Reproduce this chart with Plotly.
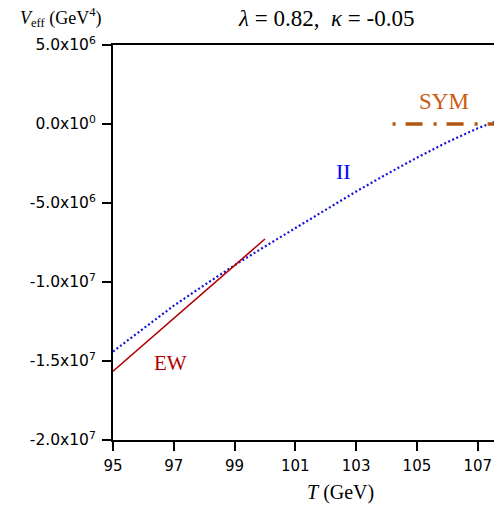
import plotly.graph_objects as go

# ---- data ----
T_ew = [95, 100]
V_ew = [-1.565e7, -7.28e6]

T_ii = [95, 96, 97, 98, 99, 100, 101, 102, 103, 104, 105, 106, 107, 107.8]
V_ii = [-14.4e6, -12.95e6, -11.5e6, -10.2e6, -8.94e6, -7.75e6, -6.58e6,
        -5.4e6, -4.27e6, -3.18e6, -2.13e6, -1.15e6, -0.27e6, 0.3e6]

T_sym = [104.2, 108.5]
V_sym = [0, 0]

x_ticks = [95, 97, 99, 101, 103, 105, 107]
y_ticks = [5e6, 0, -5e6, -1e7, -1.5e7, -2e7]
y_ticktext = ["5.0x10<sup>6</sup>", "0.0x10<sup>0</sup>", "-5.0x10<sup>6</sup>",
              "-1.0x10<sup>7</sup>", "-1.5x10<sup>7</sup>", "-2.0x10<sup>7</sup>"]

serif = "Liberation Serif"
sans = "DejaVu Sans"

fig = go.Figure()
fig.add_trace(go.Scatter(x=T_ii, y=V_ii, mode="lines",
                         line=dict(color="#1414d8", width=2.2, dash="2px,2.4px")))
fig.add_trace(go.Scatter(x=T_ew, y=V_ew, mode="lines",
                         line=dict(color="#b00000", width=1.6)))
fig.add_trace(go.Scatter(x=T_sym, y=V_sym, mode="lines",
                         line=dict(color="#b0560e", width=3.5, dash="3px,10px,17px,11px")))

# page has an 8px body margin: figure is shifted by 8px, so compensate
fig.update_layout(
    width=494, height=504,
    margin=dict(l=105, r=0, t=37, b=72),
    plot_bgcolor="white", paper_bgcolor="white",
    showlegend=False,
    xaxis=dict(range=[95, 107.8], tickvals=x_ticks, ticktext=[str(v) for v in x_ticks],
               showline=True, linecolor="black", linewidth=2, mirror=True,
               ticks="outside", ticklen=9, tickwidth=1.5, tickcolor="black",
               ticklabelstandoff=2,
               showgrid=False, zeroline=False,
               tickfont=dict(family=sans, size=15, color="black")),
    yaxis=dict(range=[-2e7, 5e6], tickvals=y_ticks, ticktext=y_ticktext,
               showline=True, linecolor="black", linewidth=2,
               ticks="outside", ticklen=9, tickwidth=1.5, tickcolor="black",
               ticklabelstandoff=3,
               showgrid=False, zeroline=False,
               tickfont=dict(family=sans, size=15.5, color="black")),
    annotations=[
        dict(text="<i>λ</i> = 0.82,  <i>κ</i> = -0.05", xref="paper", yref="paper",
             x=(326 - 113) / 389, y=1 + (45 - 18) / 395, xanchor="center", yanchor="middle",
             showarrow=False, font=dict(family=serif, size=23, color="black")),
        dict(text="<i>V</i><sub>eff</sub> (GeV<sup>4</sup>)", xref="paper", yref="paper",
             x=-(113 - 18) / 389, y=1 + (45 - 17) / 395, xanchor="left", yanchor="middle",
             showarrow=False, font=dict(family=serif, size=18, color="black")),
        dict(text="<i>T</i> (GeV)", xref="paper", yref="paper",
             x=(340 - 113) / 389, y=-(492 - 440) / 395, xanchor="center", yanchor="middle",
             showarrow=False, font=dict(family=serif, size=20, color="black")),
        dict(text="SYM", xref="x", yref="y", x=105.9, y=1.45e6,
             xanchor="center", yanchor="middle", showarrow=False,
             font=dict(family=serif, size=23, color="#cc5a14")),
        dict(text="II", xref="x", yref="y", x=102.6, y=-3.0e6,
             xanchor="center", yanchor="middle", showarrow=False,
             font=dict(family=serif, size=22, color="#0000ff")),
        dict(text="EW", xref="x", yref="y", x=96.9, y=-1.514e7,
             xanchor="center", yanchor="middle", showarrow=False,
             font=dict(family=serif, size=21, color="#b00000")),
    ],
)

fig.write_html("out.html")
